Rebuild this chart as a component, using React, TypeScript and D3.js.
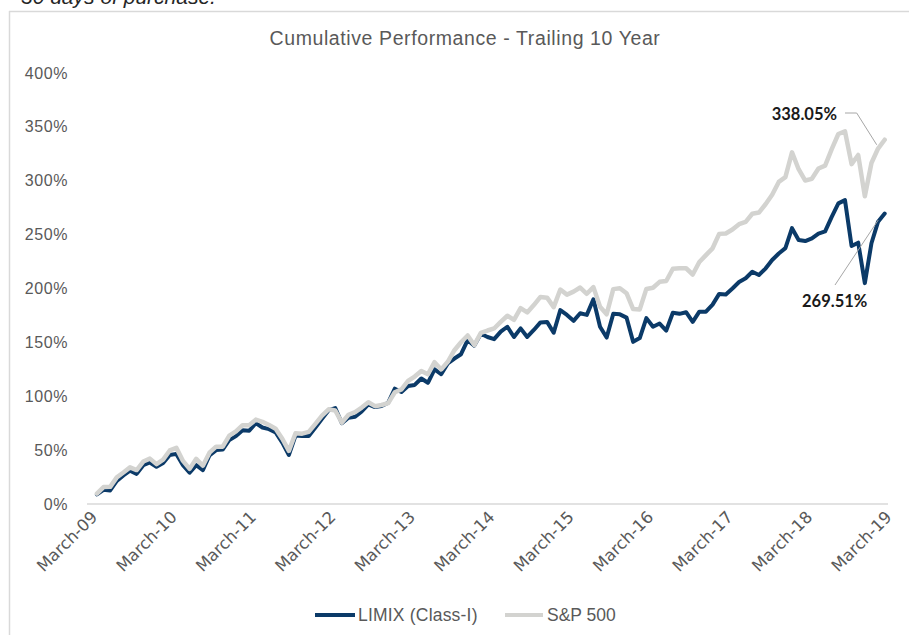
import React from 'react';
import * as d3 from 'd3';

const W = 909;
const H = 635;

const tickLabels = ['March-09', 'March-10', 'March-11', 'March-12', 'March-13', 'March-14', 'March-15', 'March-16', 'March-17', 'March-18', 'March-19'];
const seriesNames = ['LIMIX (Class-I)', 'S&P 500'];
const yTicks = [0, 50, 100, 150, 200, 250, 300, 350, 400];

// Monthly cumulative returns (%), April 2009 .. March 2019
const limix = [
  9.0, 13.2, 12.6, 21.5, 26.5, 31.0, 28.0, 36.0, 38.5, 34.5,
  38.0, 45.5, 46.5, 36.0, 29.0, 36.0, 31.5, 45.0, 50.0, 50.5,
  59.5, 63.0, 68.5, 68.0, 75.0, 71.0, 69.5, 66.5, 57.0, 45.5,
  63.5, 63.0, 63.0, 71.0, 79.0, 87.0, 89.0, 75.0, 80.0, 81.0,
  86.0, 92.5, 90.0, 91.0, 94.0, 107.0, 104.0, 109.5, 110.5, 116.5,
  112.5, 125.0, 120.5, 130.5, 135.0, 139.0, 152.0, 147.0, 158.0, 155.0,
  153.0, 160.0, 164.5, 155.0, 163.0, 155.0, 161.5, 168.5, 169.0, 159.0,
  180.0, 175.5, 170.0, 177.0, 175.5, 190.0, 164.5, 154.5, 176.5, 176.0,
  173.0, 150.5, 154.0, 172.5, 164.5, 167.5, 161.0, 177.5, 176.5, 178.0,
  169.0, 178.5, 178.5, 185.0, 195.0, 194.5, 200.0, 206.0, 209.5, 215.5,
  212.5, 218.5, 226.5, 232.5, 237.5, 256.0, 245.0, 244.0, 246.5, 251.0,
  253.0, 266.5, 279.0, 282.0, 239.5, 242.5, 205.0, 242.0, 262.0, 269.51,
];

const sp500 = [
  9.6, 15.7, 15.9, 24.7, 29.2, 34.0, 31.5, 39.4, 42.1, 37.0,
  41.2, 49.7, 52.1, 40.0, 32.6, 41.9, 35.5, 47.6, 53.2, 53.2,
  63.5, 67.4, 73.1, 73.2, 78.3, 76.3, 73.3, 69.8, 60.6, 49.3,
  65.6, 65.3, 66.9, 74.4, 82.0, 87.9, 86.8, 75.5, 82.8, 85.3,
  89.5, 94.4, 90.8, 91.9, 93.6, 103.7, 106.4, 114.2, 118.3, 123.4,
  120.4, 131.6, 124.9, 132.0, 142.7, 150.1, 156.4, 147.5, 158.8, 161.0,
  162.9, 169.1, 174.7, 170.9, 181.7, 177.8, 184.6, 192.2, 191.5, 182.7,
  199.0, 194.3, 197.1, 200.9, 195.1, 201.3, 183.1, 176.1, 199.4, 200.3,
  195.6, 180.9, 180.6, 199.6, 200.7, 206.2, 207.0, 218.3, 218.7, 218.8,
  213.0, 224.6, 231.0, 237.3, 250.7, 251.1, 254.7, 259.7, 261.9, 269.4,
  270.5, 278.2, 287.0, 298.9, 303.3, 326.4, 310.7, 300.2, 301.8, 311.4,
  314.0, 329.4, 343.4, 345.9, 315.4, 323.9, 285.6, 316.5, 329.9, 338.05,
];

const BLUE = '#0b3a68';
const GRAY = '#d3d3d0';
const TEXT = '#595959';
const SANS = '"Liberation Sans", Arial, sans-serif';

export default function App() {
  // 121 monthly slots: slot 0 = March 2009, slot 120 = March 2019
  const slots = d3.range(121);
  const x = d3.scaleBand<number>().domain(slots).range([87, 888]).padding(0);
  const cx = (s: number) => (x(s) as number) + x.bandwidth() / 2;
  const y = d3.scaleLinear().domain([0, 400]).range([504, 73]);

  const line = d3
    .line<number>()
    .x((_, i) => cx(i + 1))
    .y((d) => y(d));

  const lastSlot = 120;
  const spEnd = sp500[sp500.length - 1];
  const lxEnd = limix[limix.length - 1];
  const spX = cx(lastSlot);
  const spY = y(spEnd);
  const lxY = y(lxEnd);

  return (
    <svg width={W} height={H} style={{ position: 'absolute', left: 0, top: 0, background: '#fff' }}>
      {/* cut-off note text above chart */}
      <text x={21} y={4} fontFamily={SANS} fontStyle="italic" fontSize={21} fill="#262626">
        30 days of purchase.
      </text>
      {/* chart frame */}
      <line x1={9.5} x2={9.5} y1={11} y2={H} stroke="#d9d9d9" strokeWidth={1.5} />
      <line x1={9} x2={W} y1={11.5} y2={11.5} stroke="#d9d9d9" strokeWidth={1.5} />

      <text x={465} y={45} textAnchor="middle" fontFamily={SANS} fontSize={19.5} letterSpacing={0.6} fill={TEXT}>
        Cumulative Performance - Trailing 10 Year
      </text>

      {/* y axis labels */}
      {yTicks.map((t) => (
        <text key={t} x={68} y={y(t)} dy="0.35em" textAnchor="end" fontFamily={SANS} fontSize={16} letterSpacing={0.6} fill={TEXT}>
          {`${t}%`}
        </text>
      ))}

      {/* x axis baseline */}
      <line x1={87} x2={888} y1={y(0)} y2={y(0)} stroke="#d9d9d9" strokeWidth={1.5} />

      {/* x tick labels */}
      {tickLabels.map((lab, k) => {
        const tx = cx(k * 12) + 4;
        const ty = 514;
        return (
          <text
            key={lab}
            x={tx}
            y={ty}
            textAnchor="end"
            dy="0.35em"
            transform={`rotate(-45, ${tx}, ${ty})`}
            fontFamily='"DejaVu Sans", sans-serif'
            fontSize={16.5}
            fill={TEXT}
          >
            {lab}
          </text>
        );
      })}

      {/* series */}
      <path d={line(limix) || ''} fill="none" stroke={BLUE} strokeWidth={4} strokeLinejoin="round" strokeLinecap="round" />
      <path d={line(sp500) || ''} fill="none" stroke={GRAY} strokeWidth={4.5} strokeLinejoin="round" strokeLinecap="round" />

      {/* annotations */}
      <polyline
        points={`845,113 ${spX - 28},113 ${spX - 8},${spY + 5}`}
        fill="none"
        stroke="#a6a6a6"
        strokeWidth={1}
      />
      <text x={837} y={120} textAnchor="end" fontFamily="Lato, sans-serif" fontWeight={700} fontSize={16.5} fill="#1a1a1a">
        {`${spEnd.toFixed(2)}%`}
      </text>
      <line x1={835} y1={285} x2={spX - 6.5} y2={lxY + 6.5} stroke="#a6a6a6" strokeWidth={1} />
      <text x={802} y={307} textAnchor="start" fontFamily="Lato, sans-serif" fontWeight={700} fontSize={16.5} fill="#1a1a1a">
        {`${lxEnd.toFixed(2)}%`}
      </text>

      {/* legend */}
      <line x1={315} x2={355} y1={615} y2={615} stroke={BLUE} strokeWidth={4} />
      <text x={358} y={615} dy="0.35em" fontFamily={SANS} fontSize={17.5} letterSpacing={0.2} fill={TEXT}>
        {seriesNames[0]}
      </text>
      <line x1={505} x2={543} y1={615} y2={615} stroke={GRAY} strokeWidth={4} />
      <text x={547} y={615} dy="0.35em" fontFamily={SANS} fontSize={17.5} fill={TEXT}>
        {seriesNames[1]}
      </text>
    </svg>
  );
}
